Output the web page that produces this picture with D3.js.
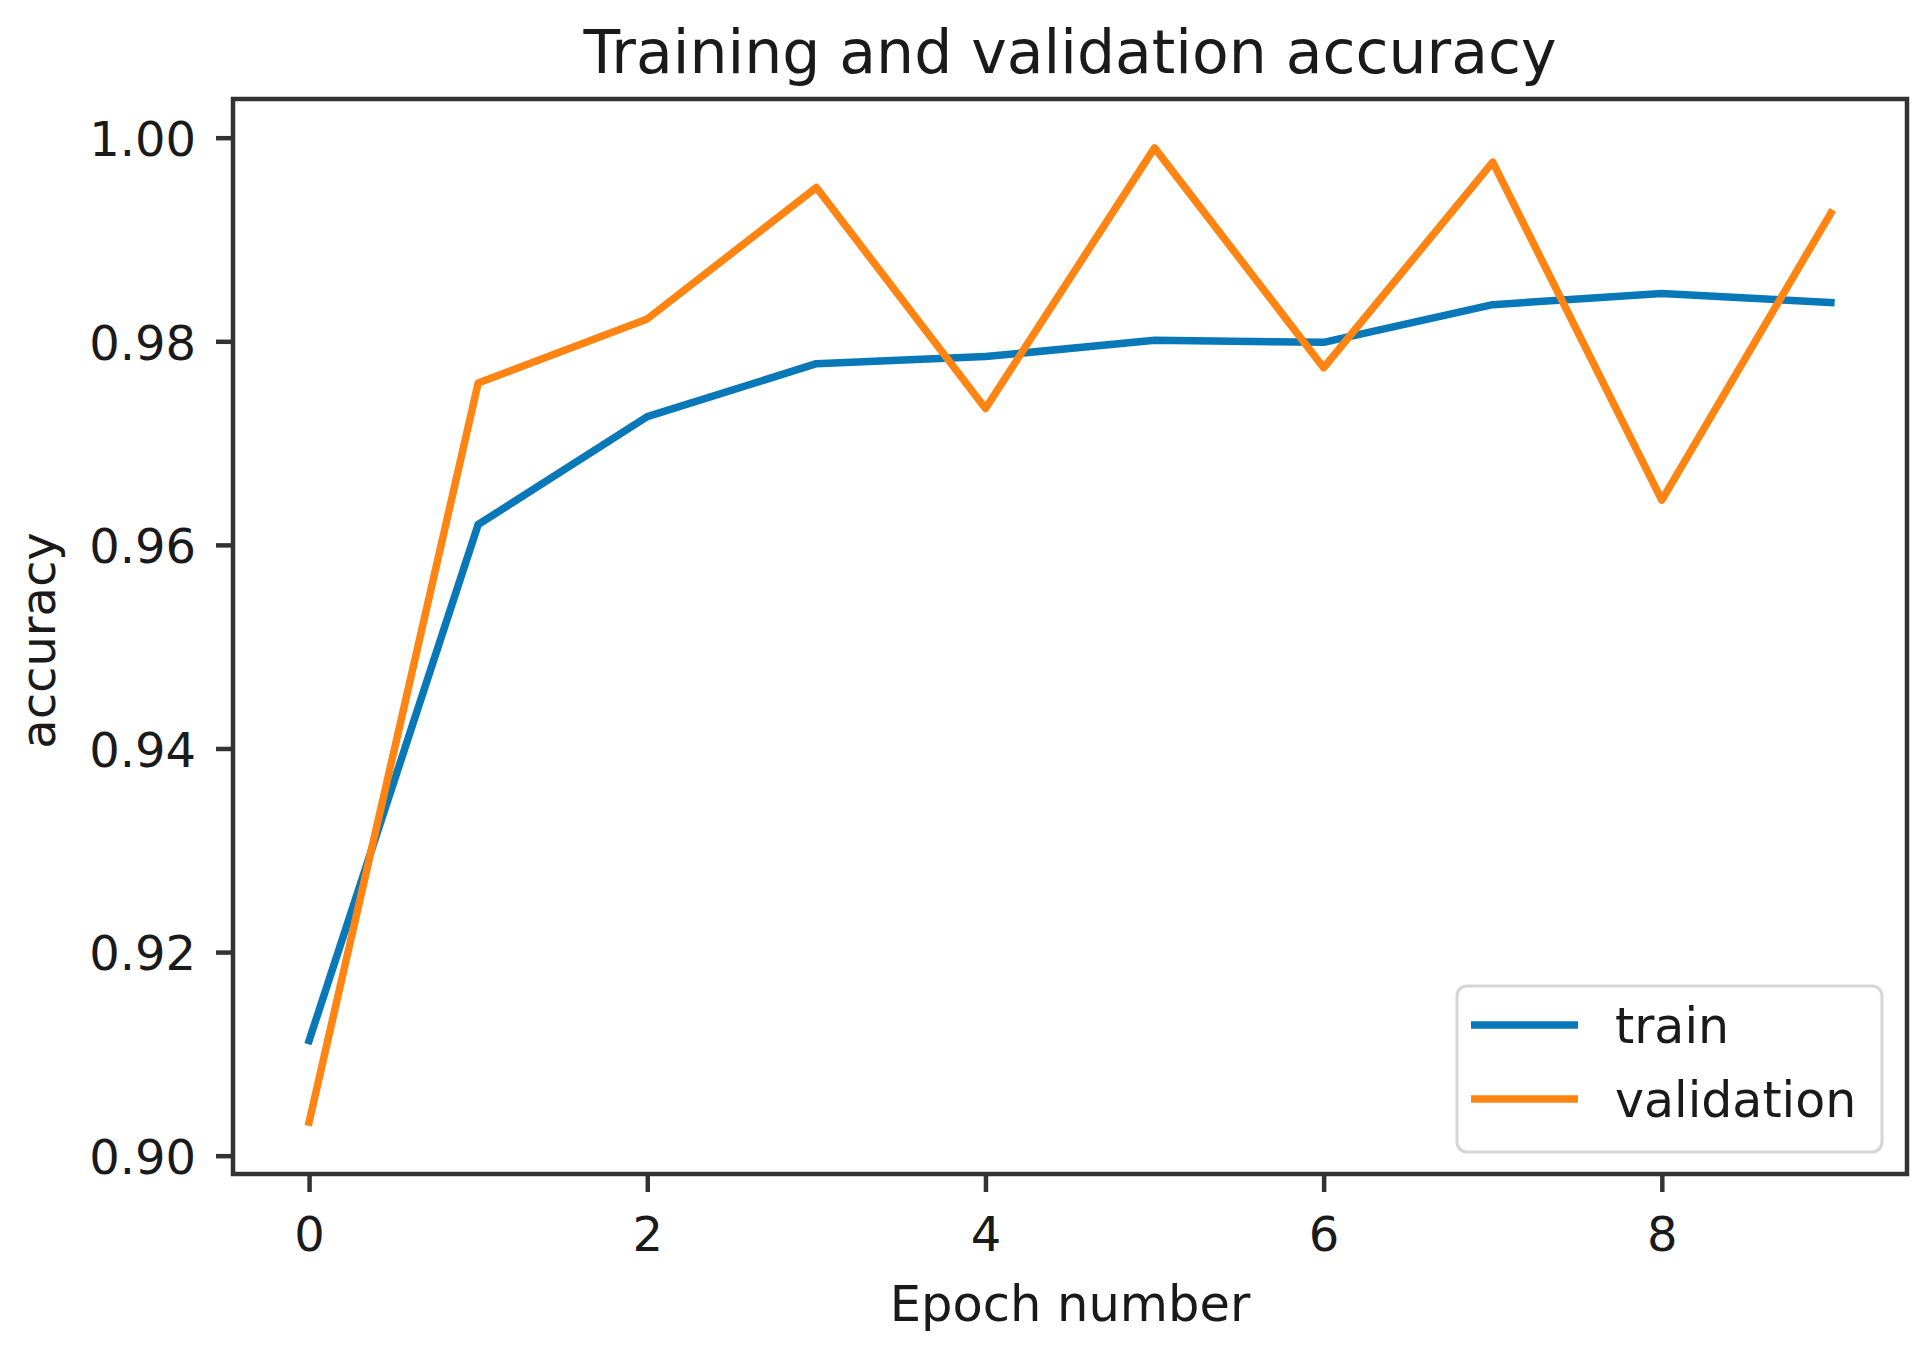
<!DOCTYPE html>
<html>
<head>
<meta charset="utf-8">
<script src="https://cdn.jsdelivr.net/npm/d3@7"></script>
<style>
  html, body { margin: 0; padding: 0; background: #fff; }
  svg { display: block; }
  text { font-family: "DejaVu Sans", sans-serif; fill: #1a1a1a; }
</style>
</head>
<body>
<svg id="chart" width="1928" height="1353"></svg>
<script>
// ---- data ----
const epochs = [0, 1, 2, 3, 4, 5, 6, 7, 8, 9];
const trainAcc = [0.9113, 0.9620, 0.9726, 0.9778, 0.9785, 0.9801, 0.9799, 0.9836, 0.9847, 0.9838];
const valAcc   = [0.9033, 0.9759, 0.9822, 0.9951, 0.9734, 0.9990, 0.9774, 0.9976, 0.9644, 0.9926];
const xTicks = [0, 2, 4, 6, 8];
const yTicks = [0.90, 0.92, 0.94, 0.96, 0.98, 1.00];
const seriesNames = ["train", "validation"];
const seriesColors = ["#0878b8", "#ff8412"];
const titleText = "Training and validation accuracy";
const xLabel = "Epoch number";
const yLabel = "accuracy";

// ---- layout ----
const L = 233, R = 1907, T = 99, B = 1174;
const svg = d3.select("#chart");

const x = d3.scaleLinear().domain([-0.45, 9.45]).range([L, R]);
const y = d3.scaleLinear().domain([0.8982, 1.0038]).range([B, T]);

// lines
const line = d3.line().x((d, i) => x(epochs[i])).y(d => y(d));
[trainAcc, valAcc].forEach((s, k) => {
  svg.append("path")
    .datum(s)
    .attr("d", line)
    .attr("fill", "none")
    .attr("stroke", seriesColors[k])
    .attr("stroke-width", 7.5)
    .attr("stroke-linejoin", "round")
    .attr("stroke-linecap", "square");
});

// axes
const xAxis = d3.axisBottom(x).tickValues(xTicks).tickFormat(d3.format("d"))
  .tickSize(18).tickPadding(23).tickSizeOuter(0);
const gx = svg.append("g").attr("transform", `translate(0,${B})`).call(xAxis);
const yAxis = d3.axisLeft(y).tickValues(yTicks).tickFormat(d3.format(".2f"))
  .tickSize(17).tickPadding(20).tickSizeOuter(0);
const gy = svg.append("g").attr("transform", `translate(${L},0)`).call(yAxis);

[gx, gy].forEach(g => {
  g.select(".domain").remove();
  g.selectAll(".tick line").attr("stroke", "#333").attr("stroke-width", 4.5);
  g.selectAll(".tick text").attr("font-size", 48).attr("fill", "#1a1a1a")
    .style("font-family", "'DejaVu Sans', sans-serif");
});
gy.selectAll(".tick text").attr("dy", "0.37em");
gx.selectAll(".tick text").attr("dy", "0.74em");

// frame
svg.append("rect")
  .attr("x", L).attr("y", T).attr("width", R - L).attr("height", B - T)
  .attr("fill", "none").attr("stroke", "#333").attr("stroke-width", 4.5);

// title & labels
svg.append("text").attr("x", (L + R) / 2).attr("y", 73)
  .attr("text-anchor", "middle").attr("font-size", 60).text(titleText);
svg.append("text").attr("x", (L + R) / 2).attr("y", 1321)
  .attr("text-anchor", "middle").attr("font-size", 49.5).text(xLabel);
svg.append("text")
  .attr("transform", `translate(55,${(T + B) / 2 + 4}) rotate(-90)`)
  .attr("text-anchor", "middle").attr("font-size", 48).text(yLabel);

// legend
const lg = svg.append("g");
lg.append("rect")
  .attr("x", 1457).attr("y", 986).attr("width", 425).attr("height", 166)
  .attr("rx", 10).attr("ry", 10)
  .attr("fill", "#fff").attr("fill-opacity", 0.8)
  .attr("stroke", "#d5d5d5").attr("stroke-width", 3);
seriesNames.forEach((n, k) => {
  const cy = 1025 + k * 74;
  lg.append("line").attr("x1", 1471).attr("x2", 1578).attr("y1", cy).attr("y2", cy)
    .attr("stroke", seriesColors[k]).attr("stroke-width", 7.5);
  lg.append("text").attr("x", 1615).attr("y", cy + 18).attr("font-size", 49).text(n);
});
</script>
</body>
</html>
